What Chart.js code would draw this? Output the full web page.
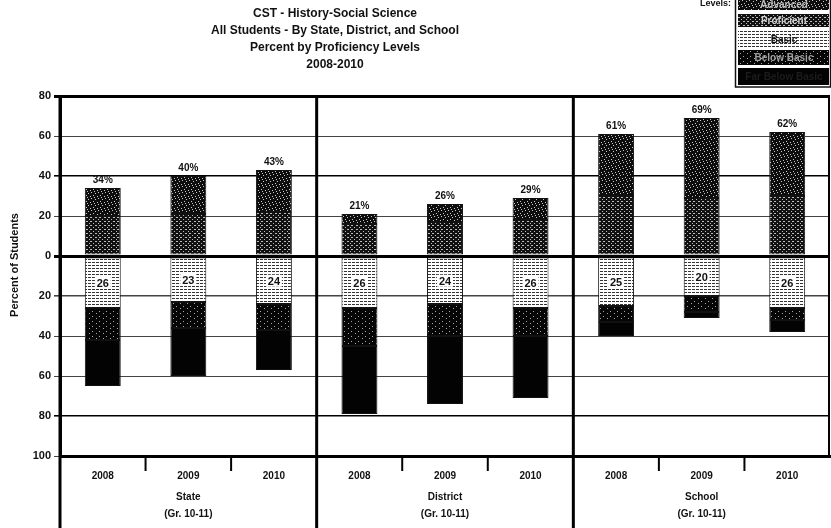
<!DOCTYPE html>
<html>
<head>
<meta charset="utf-8">
<script src="https://cdn.jsdelivr.net/npm/chart.js@4/dist/chart.umd.min.js"></script>
<style>
  html, body { margin: 0; padding: 0; background: #fff; }
  #wrap { width: 831px; height: 528px; position: relative; }
</style>
</head>
<body>
<div id="wrap"><canvas id="cst-chart" width="831" height="528"></canvas></div>
<script>
// ─── Dados ────────────────────────────────────────────────────────────────────
const years         = ['2008', '2009', '2010', '2008', '2009', '2010', '2008', '2009', '2010'];
const groups        = ['State', 'District', 'School'];
const gradeSpan     = '(Gr. 10-11)';
const yTicks        = [80, 60, 40, 20, 0, -20, -40, -60, -80, -100];

const proficient    = [20, 21, 22, 16, 17, 18, 30, 29, 30];
const advanced      = [14, 19, 21,  5,  9, 11, 31, 40, 32];
const basic         = [26, 23, 24, 26, 24, 26, 25, 20, 26];
const belowBasic    = [16, 13, 13, 19, 16, 14,  8,  8,  6];
const farBelowBasic = [23, 24, 20, 34, 34, 31,  7,  3,  6];

const titleLines = [
  'CST - History-Social Science',
  'All Students - By State, District, and School',
  'Percent by Proficiency Levels',
  '2008-2010',
];

const FONT = '"Liberation Sans", Arial, sans-serif';

// ─── Padrões de preenchimento (tons de cinza pontilhados) ────────────────────
function makePattern(w, h, paint) {
  const c = document.createElement('canvas');
  c.width = w; c.height = h;
  const g = c.getContext('2d');
  paint(g);
  return g.createPattern(c, 'repeat');
}

const patAdvanced = makePattern(7, 6, g => {
  g.fillStyle = '#0d0d0d'; g.fillRect(0, 0, 7, 6);
  g.fillStyle = '#c8c8c8';
  [[0,0],[4,1],[2,3],[6,4],[3,5]].forEach(([x, y]) => g.fillRect(x, y, 1, 1));
});

const patProficient = makePattern(9, 4, g => {
  g.fillStyle = '#111'; g.fillRect(0, 0, 9, 4);
  g.fillStyle = '#bdbdbd';
  g.fillRect(0, 1, 2, 1); g.fillRect(5, 1, 2, 1);
  g.fillRect(3, 3, 1, 1); g.fillRect(8, 3, 1, 1);
});

const patBasic = makePattern(8, 3, g => {
  g.fillStyle = '#ffffff'; g.fillRect(0, 0, 8, 3);
  g.fillStyle = '#333';
  g.fillRect(0, 1, 3, 1); g.fillRect(4, 1, 3, 1);
});

const patBelowBasic = makePattern(7, 5, g => {
  g.fillStyle = '#060606'; g.fillRect(0, 0, 7, 5);
  g.fillStyle = '#a8a8a8';
  g.fillRect(1, 1, 1, 1); g.fillRect(5, 3, 1, 1);
});

const patFarBelow = '#030303';

const legendItems = [
  { label: 'Advanced',        fill: patAdvanced,   text: '#bdbdbd', y: -2, h: 12 },
  { label: 'Proficient',      fill: patProficient, text: '#cfcfcf', y: 14, h: 13 },
  { label: 'Basic',           fill: patBasic,      text: '#111',    y: 31, h: 16 },
  { label: 'Below Basic',     fill: patBelowBasic, text: '#a0a0a0', y: 50, h: 15 },
  { label: 'Far Below Basic', fill: patFarBelow,   text: '#1c1c1c', y: 68, h: 17 },
];

// ─── Desenho dos textos, separadores e legenda ───────────────────────────────
const decorPlugin = {
  id: 'decor',
  afterDraw(chart) {
    const { ctx, chartArea: a, scales: { x } } = chart;
    ctx.save();

    // título
    ctx.fillStyle = '#111';
    ctx.font = `bold 12px ${FONT}`;
    ctx.textAlign = 'center';
    ctx.textBaseline = 'middle';
    titleLines.forEach((t, i) => ctx.fillText(t, 335, 14 + i * 17));

    // legenda
    ctx.font = `bold 9px ${FONT}`;
    ctx.textAlign = 'left';
    ctx.fillText('Levels:', 700, 4);
    ctx.strokeStyle = '#111';
    ctx.lineWidth = 1.5;
    ctx.strokeRect(735.5, -2, 95, 89);
    legendItems.forEach(it => {
      ctx.fillStyle = it.fill;
      ctx.fillRect(738, it.y, 91, it.h);
      ctx.fillStyle = it.text;
      ctx.font = `bold 10px ${FONT}`;
      ctx.textAlign = 'center';
      ctx.fillText(it.label, 784, it.y + it.h / 2 + 1);
    });

    // rótulos de percentual acima das barras
    const topMeta = chart.getDatasetMeta(1);
    ctx.fillStyle = '#111';
    ctx.font = `bold 10px ${FONT}`;
    topMeta.data.forEach((bar, i) => {
      ctx.fillText(`${proficient[i] + advanced[i]}%`, bar.x, bar.y - 8);
    });

    // valores do segmento Basic
    const basicMeta = chart.getDatasetMeta(2);
    ctx.font = `bold 11px ${FONT}`;
    basicMeta.data.forEach((bar, i) => {
      const cy = (bar.y + bar.base) / 2;
      ctx.fillStyle = '#fff';
      ctx.fillRect(bar.x - 8, cy - 6, 16, 12);
      ctx.fillStyle = '#111';
      ctx.fillText(String(basic[i]), bar.x, cy + 1);
    });

    // linhas verticais: eixo, separadores de grupo e borda direita
    ctx.strokeStyle = '#000';
    ctx.lineWidth = 3;
    const step = (a.right - a.left) / years.length;
    [0, 3, 6].forEach(k => {
      const px = a.left + k * step;
      ctx.beginPath(); ctx.moveTo(px, a.top); ctx.lineTo(px, 528); ctx.stroke();
    });
    ctx.lineWidth = 2;
    ctx.beginPath(); ctx.moveTo(a.right - 1, a.top); ctx.lineTo(a.right - 1, a.bottom); ctx.stroke();

    // marcas entre os anos
    ctx.lineWidth = 2;
    [1, 2, 4, 5, 7, 8].forEach(k => {
      const px = a.left + k * step;
      ctx.beginPath(); ctx.moveTo(px, a.bottom); ctx.lineTo(px, a.bottom + 15); ctx.stroke();
    });

    // rótulos do eixo X
    ctx.fillStyle = '#111';
    ctx.font = `bold 10px ${FONT}`;
    years.forEach((yr, i) => ctx.fillText(yr, x.getPixelForValue(i), 476));
    groups.forEach((grp, k) => {
      const cx = a.left + (k * 3 + 1.5) * step;
      ctx.fillText(grp, cx, 497);
      ctx.fillText(gradeSpan, cx, 514);
    });

    // título do eixo Y
    ctx.translate(15, 265);
    ctx.rotate(-Math.PI / 2);
    ctx.font = `bold 11px ${FONT}`;
    ctx.fillText('Percent of Students', 0, 0);

    ctx.restore();
  },
};

// ─── Gráfico ──────────────────────────────────────────────────────────────────
const neg = arr => arr.map(v => -v);

const barStyle = { borderColor: '#111', borderWidth: 1, borderSkipped: false,
                   barPercentage: 0.42, categoryPercentage: 1 };

new Chart(document.getElementById('cst-chart'), {
  type: 'bar',
  data: {
    labels: years.map((y, i) => `${groups[Math.floor(i / 3)]} ${y}`),
    datasets: [
      { label: 'Proficient',      data: proficient,         backgroundColor: patProficient, ...barStyle },
      { label: 'Advanced',        data: advanced,           backgroundColor: patAdvanced,   ...barStyle },
      { label: 'Basic',           data: neg(basic),         backgroundColor: patBasic,      ...barStyle },
      { label: 'Below Basic',     data: neg(belowBasic),    backgroundColor: patBelowBasic, ...barStyle },
      { label: 'Far Below Basic', data: neg(farBelowBasic), backgroundColor: patFarBelow,   ...barStyle },
    ],
  },
  options: {
    responsive: false,
    animation: false,
    events: [],
    layout: { padding: { top: 96, right: 1, left: 0, bottom: 0 } },
    plugins: {
      legend: { display: false },
      title:  { display: false },
      tooltip: { enabled: false },
    },
    scales: {
      x: {
        stacked: true,
        ticks: { display: false },
        grid: { display: false },
        border: { display: true, width: 3, color: '#000' },
        afterFit: s => { s.height = 72; },
      },
      y: {
        stacked: true,
        min: -100,
        max: 80,
        afterBuildTicks: s => { s.ticks = yTicks.map(v => ({ value: v })); },
        ticks: {
          color: '#111',
          padding: 3,
          font: { family: FONT, size: 11, weight: 'bold' },
          callback: v => Math.abs(v),
        },
        grid: {
          tickLength: 6,
          color: ctx => {
            const v = ctx.tick && ctx.tick.value;
            return (v === 0 || v === 80 || v === 40 || v === -80) ? '#000' : '#444';
          },
          lineWidth: ctx => {
            const v = ctx.tick && ctx.tick.value;
            if (v === 0 || v === 80) return 3;
            if (v === 40 || v === -80 || v === -20) return 1.6;
            return 1;
          },
        },
        border: { display: true, width: 3, color: '#000' },
        afterFit: s => { s.width = 60; },
      },
    },
  },
  plugins: [decorPlugin],
});
</script>
</body>
</html>
